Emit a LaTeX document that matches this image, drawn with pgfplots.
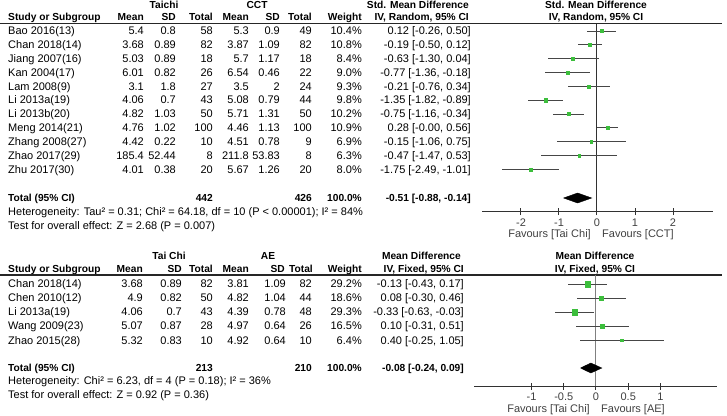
\documentclass[border=0pt]{standalone}
\usepackage{pgfplots}
\pgfplotsset{compat=1.18}
\usepackage{pgfplotstable}
\usepackage{fontspec}
\setmainfont{Liberation Sans}
\definecolor{mk}{RGB}{60,190,60}
\definecolor{cil}{RGB}{70,70,70}
\definecolor{zl}{RGB}{50,50,50}
\newcommand\ff{\fontsize{11}{12}\selectfont}
\newcommand\bb{\fontsize{10.2}{12}\selectfont\bfseries}

% forest data: y = row position (px from top), estimate, CI, weight
\pgfplotstableread{
y      est    lo     hi     w
31     0.12  -0.26   0.50  10.4
44.85 -0.19  -0.50   0.12  10.8
58.7  -0.63  -1.30   0.04   8.4
72.55 -0.77  -1.36  -0.18   9.0
86.4  -0.21  -0.76   0.34   9.3
100.25 -1.35 -1.82  -0.89   9.8
114.1 -0.75  -1.16  -0.34  10.2
127.95 0.28  -0.00   0.56  10.9
141.8 -0.15  -1.06   0.75   6.9
155.65 -0.47 -1.47   0.53   6.3
169.5 -1.75  -2.49  -1.01   8.0
}\topdata
\pgfplotstableread{
y      est    lo     hi     w
284    -0.13 -0.43   0.17  29.2
298.1   0.08 -0.30   0.46  18.6
312.2  -0.33 -0.63  -0.03  29.3
326.3   0.10 -0.31   0.51  16.5
340.4   0.40 -0.25   1.05   6.4
}\botdata

\pgfplotsset{forest/.style={
  scale only axis, clip=false, anchor=south west,
  axis y line=none, axis x line*=bottom,
  x axis line style={-, draw=zl, line width=1pt},
  xtick style={draw=zl, line width=1pt},
  tick align=center, major tick length=7pt,
  xticklabel style={font=\ff, text=black!75},
}}

\begin{document}
\begin{tikzpicture}
\useasboundingbox (0,0) rectangle (727pt,-415pt);
\begin{scope}[x=1pt,y=1pt,every node/.style={inner sep=0pt,font=\ff,yshift=-1pt}]
% ---- top table
\node[anchor=mid] at (164,-5) {\bb Taichi};
\node[anchor=mid] at (257,-5) {\bb CCT};
\node[anchor=mid east] at (469,-5) {\bb Std. Mean Difference};
\node[anchor=mid] at (596,-5) {\bb Std. Mean Difference};
\node[anchor=mid west] at (8,-17) {\bb Study or Subgroup};
\foreach \xx/\lab in {144/Mean,176/SD,213/Total,249/Mean,280/SD,312/Total,362/Weight}
  \node[anchor=mid east] at (\xx,-17) {\bb\lab};
\node[anchor=mid east] at (469,-17) {\bb IV, Random, 95\% CI};
\node[anchor=mid] at (596,-17) {\bb IV, Random, 95\% CI};
\draw[line width=1.2pt, black!85] (0,-23.5) -- (722,-23.5);
\foreach \yy/\nm/\ma/\sa/\na/\mb/\sb/\nb/\wt/\ci in {
  31/Bao 2016(13)/5.4/0.8/58/5.3/0.9/49/10.4/{0.12 [-0.26, 0.50]},
  44.85/Chan 2018(14)/3.68/0.89/82/3.87/1.09/82/10.8/{-0.19 [-0.50, 0.12]},
  58.7/Jiang 2007(16)/5.03/0.89/18/5.7/1.17/18/8.4/{-0.63 [-1.30, 0.04]},
  72.55/Kan 2004(17)/6.01/0.82/26/6.54/0.46/22/9.0/{-0.77 [-1.36, -0.18]},
  86.4/Lam 2008(9)/3.1/1.8/27/3.5/2/24/9.3/{-0.21 [-0.76, 0.34]},
  100.25/Li 2013a(19)/4.06/0.7/43/5.08/0.79/44/9.8/{-1.35 [-1.82, -0.89]},
  114.1/Li 2013b(20)/4.82/1.03/50/5.71/1.31/50/10.2/{-0.75 [-1.16, -0.34]},
  127.95/Meng 2014(21)/4.76/1.02/100/4.46/1.13/100/10.9/{0.28 [-0.00, 0.56]},
  141.8/Zhang 2008(27)/4.42/0.22/10/4.51/0.78/9/6.9/{-0.15 [-1.06, 0.75]},
  155.65/Zhao 2017(29)/185.4/52.44/8/211.8/53.83/8/6.3/{-0.47 [-1.47, 0.53]},
  169.5/Zhu 2017(30)/4.01/0.38/20/5.67/1.26/20/8.0/{-1.75 [-2.49, -1.01]}}{
  \node[anchor=mid west] at (8,-\yy) {\nm};
  \node[anchor=mid east] at (144,-\yy) {\ma};
  \node[anchor=mid east] at (176,-\yy) {\sa};
  \node[anchor=mid east] at (213,-\yy) {\na};
  \node[anchor=mid east] at (249,-\yy) {\mb};
  \node[anchor=mid east] at (280,-\yy) {\sb};
  \node[anchor=mid east] at (312,-\yy) {\nb};
  \node[anchor=mid east] at (362,-\yy) {\wt\%};
  \node[anchor=mid east] at (471,-\yy) {\ci};
}
\node[anchor=mid west] at (8,-198) {\bb Total (95\% CI)};
\node[anchor=mid east] at (213,-198) {\bb 442};
\node[anchor=mid east] at (312,-198) {\bb 426};
\node[anchor=mid east] at (362,-198) {\bb 100.0\%};
\node[anchor=mid east] at (471,-198) {\bb -0.51 [-0.88, -0.14]};
\node[anchor=mid west] at (8,-212) {Heterogeneity: Tau² = 0.31; Chi² = 64.18, df = 10 (P < 0.00001); I² = 84\%};
\node[anchor=mid west] at (8,-226) {Test for overall effect: Z = 2.68 (P = 0.007)};
\node[anchor=mid east, text=black!75] at (591,-234) {Favours [Tai Chi]};
\node[anchor=mid west, text=black!75] at (602,-234) {Favours [CCT]};
% ---- bottom table
\node[anchor=mid] at (169,-256) {\bb Tai Chi};
\node[anchor=mid] at (268,-256) {\bb AE};
\node[anchor=mid east] at (461,-256) {\bb Mean Difference};
\node[anchor=mid] at (595,-256) {\bb Mean Difference};
\node[anchor=mid west] at (8,-268.5) {\bb Study or Subgroup};
\foreach \xx/\lab in {143/Mean,182/SD,213/Total,249/Mean,285/SD,313/Total,362/Weight}
  \node[anchor=mid east] at (\xx,-268.5) {\bb\lab};
\node[anchor=mid east] at (464,-268.5) {\bb IV, Fixed, 95\% CI};
\node[anchor=mid] at (595,-268.5) {\bb IV, Fixed, 95\% CI};
\draw[line width=1.2pt, black!85] (0,-275) -- (722,-275);
\foreach \yy/\nm/\ma/\sa/\na/\mb/\sb/\nb/\wt/\ci in {
  284/Chan 2018(14)/3.68/0.89/82/3.81/1.09/82/29.2/{-0.13 [-0.43, 0.17]},
  298.1/Chen 2010(12)/4.9/0.82/50/4.82/1.04/44/18.6/{0.08 [-0.30, 0.46]},
  312.2/Li 2013a(19)/4.06/0.7/43/4.39/0.78/48/29.3/{-0.33 [-0.63, -0.03]},
  326.3/Wang 2009(23)/5.07/0.87/28/4.97/0.64/26/16.5/{0.10 [-0.31, 0.51]},
  340.4/Zhao 2015(28)/5.32/0.83/10/4.92/0.64/10/6.4/{0.40 [-0.25, 1.05]}}{
  \node[anchor=mid west] at (8,-\yy) {\nm};
  \node[anchor=mid east] at (143,-\yy) {\ma};
  \node[anchor=mid east] at (182,-\yy) {\sa};
  \node[anchor=mid east] at (213,-\yy) {\na};
  \node[anchor=mid east] at (249,-\yy) {\mb};
  \node[anchor=mid east] at (286,-\yy) {\sb};
  \node[anchor=mid east] at (312,-\yy) {\nb};
  \node[anchor=mid east] at (362,-\yy) {\wt\%};
  \node[anchor=mid east] at (464,-\yy) {\ci};
}
\node[anchor=mid west] at (8,-368) {\bb Total (95\% CI)};
\node[anchor=mid east] at (213,-368) {\bb 213};
\node[anchor=mid east] at (312,-368) {\bb 210};
\node[anchor=mid east] at (362,-368) {\bb 100.0\%};
\node[anchor=mid east] at (464,-368) {\bb -0.08 [-0.24, 0.09]};
\node[anchor=mid west] at (8,-381) {Heterogeneity: Chi² = 6.23, df = 4 (P = 0.18); I² = 36\%};
\node[anchor=mid west] at (8,-394.5) {Test for overall effect: Z = 0.92 (P = 0.36)};
\node[anchor=mid east, text=black!75] at (590,-409) {Favours [Tai Chi]};
\node[anchor=mid west, text=black!75] at (601,-409) {Favours [AE]};
\end{scope}

% ---- top forest plot
\begin{axis}[forest, at={(482pt,-211.5pt)}, width=231pt, height=188pt,
  xmin=-3.026, xmax=3.053, ymin=-211.5, ymax=-23.5,
  xtick={-2,-1,0,1,2}, xticklabels={-2,-1,0,1,2}]
\addplot[zl, line width=1pt] coordinates {(0,-23.5) (0,-211.5)};
\addplot[draw=none, mark=none, error bars/.cd, x dir=both, x explicit,
  error mark=none, error bar style={draw=cil, line width=1pt, solid}]
  table[x=est, y expr=-\thisrow{y},
    x error plus expr=\thisrow{hi}-\thisrow{est},
    x error minus expr=\thisrow{est}-\thisrow{lo}] {\topdata};
\addplot[scatter, only marks, mark=square*,
  scatter/use mapped color={draw=mk, fill=mk},
  visualization depends on={0.5*sqrt(\thisrow{w}) \as \msz},
  scatter/@pre marker code/.append style={/tikz/mark size=\msz}]
  table[x=est, y expr=-\thisrow{y}] {\topdata};
\addplot[fill=black, draw=black] coordinates
  {(-0.88,-198) (-0.51,-193) (-0.14,-198) (-0.51,-203) (-0.88,-198)};
\end{axis}

% ---- bottom forest plot
\begin{axis}[forest, at={(474pt,-386pt)}, width=243pt, height=111pt,
  xmin=-1.891, xmax=1.876, ymin=-386, ymax=-275,
  xtick={-1,-0.5,0,0.5,1}, xticklabels={-1,-0.5,0,0.5,1}]
\addplot[black!50, line width=1pt] coordinates {(0,-275) (0,-386)};
\addplot[draw=none, mark=none, error bars/.cd, x dir=both, x explicit,
  error mark=none, error bar style={draw=cil, line width=1pt, solid}]
  table[x=est, y expr=-\thisrow{y},
    x error plus expr=\thisrow{hi}-\thisrow{est},
    x error minus expr=\thisrow{est}-\thisrow{lo}] {\botdata};
\addplot[scatter, only marks, mark=square*,
  scatter/use mapped color={draw=mk, fill=mk},
  visualization depends on={0.5*sqrt(\thisrow{w}) \as \msz},
  scatter/@pre marker code/.append style={/tikz/mark size=\msz}]
  table[x=est, y expr=-\thisrow{y}] {\botdata};
\addplot[fill=black, draw=black] coordinates
  {(-0.24,-368) (-0.08,-363) (0.09,-368) (-0.08,-373) (-0.24,-368)};
\end{axis}
\end{tikzpicture}
\end{document}
